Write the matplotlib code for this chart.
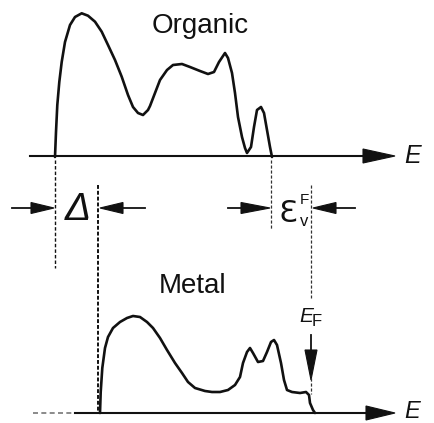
import matplotlib
matplotlib.use("Agg")
import matplotlib.pyplot as plt
from matplotlib.patches import Polygon

# Organic density of states (x, y in image pixels)
org_x = [55, 56, 57.3, 59.3, 61.7, 65, 70, 75, 81.7, 88, 95, 101.7, 108, 115, 121.7, 128,
         133, 138, 143, 148, 150, 155, 160, 167, 173, 182, 190, 200, 208, 214, 219, 225,
         228, 232, 235, 238, 242, 245, 247, 251, 254, 257, 261, 264, 267, 270, 272]
org_y = [157, 132, 105, 82, 62, 42, 25, 17, 13.3, 15.7, 21.7, 31.7, 45, 60, 76.7, 95,
         107, 113, 115, 110, 106, 93, 80, 70, 65, 64, 67, 71, 74, 72, 62, 53,
         58, 73, 93, 117, 137, 148, 153, 147, 127, 110, 107, 113, 130, 147, 157]

# Metal density of states
met_x = [100, 100.7, 102.3, 105, 108, 113, 120, 127, 133, 140, 147, 153, 160, 167, 175,
         182, 188, 195, 205, 212, 220, 228, 235, 240, 243, 247, 250, 253, 258, 263, 267,
         271, 274, 277, 281, 284, 287, 292, 300, 306, 309, 310, 313, 315]
met_y = [413, 392, 368, 348, 337, 328, 322, 318, 316, 317, 322, 328, 338, 350, 363,
         373, 382, 388, 391, 392, 392, 390, 385, 377, 363, 352, 348, 353, 362, 361, 352,
         342, 340, 345, 363, 380, 390, 392, 393, 392, 395, 403, 410, 413]

W, H = 435, 423
fig = plt.figure(figsize=(W / 100, H / 100), dpi=100)
ax = fig.add_axes([0, 0, 1, 1])
ax.set_xlim(0, W)
ax.set_ylim(H, 0)
ax.axis("off")

K = "#111111"
sans = "Liberation Sans"

def head(tip, base, half, ax=ax):
    (tx, ty), (bx, by) = tip, base
    if ty == by:
        pts = [(tx, ty), (bx, by - half), (bx, by + half)]
    else:
        pts = [(tx, ty), (bx - half, by), (bx + half, by)]
    ax.add_patch(Polygon(pts, closed=True, facecolor=K, edgecolor=K, lw=0.8))

# energy axes
ax.plot([30, 370], [156, 156], color=K, lw=1.5)
head((395, 156), (363, 156), 7)
ax.text(404, 156, "E", fontsize=18, fontstyle="italic", family=sans, va="center", ha="left", color=K)

ax.plot([33, 75], [413, 413], color="#777777", lw=1.2, ls=(0, (3, 2)))
ax.plot([75, 370], [413, 413], color=K, lw=1.5)
head((395, 413), (366, 413), 7)
ax.text(404, 411, "E", fontsize=17, fontstyle="italic", family=sans, va="center", ha="left", color=K)

# curves
ax.plot(org_x, org_y, color=K, lw=1.9, solid_joinstyle="round", solid_capstyle="round")
ax.plot(met_x, met_y, color=K, lw=1.9, solid_joinstyle="round", solid_capstyle="round")

# dashed guide lines
dash = (0, (2.5, 1.5))
ax.plot([55, 55], [160, 268], color=K, lw=1.0, ls=dash)
ax.plot([98, 98], [185, 413], color=K, lw=1.4, ls=(0, (2, 1)))
ax.plot([271, 271], [160, 230], color="#333333", lw=0.9, ls=dash)
ax.plot([311, 311], [185, 298], color="#333333", lw=0.9, ls=dash)
ax.plot([311, 311], [378, 394], color="#333333", lw=0.9, ls=dash)

# gap arrows
ay = 208
ax.plot([12, 36], [ay, ay], color=K, lw=1.3)
head((54, ay), (31, ay), 5.5)
ax.plot([120, 145], [ay, ay], color=K, lw=1.3)
head((100, ay), (123, ay), 5.5)
ax.plot([228, 245], [ay, ay], color=K, lw=1.3)
head((270, ay), (241, ay), 5.5)
ax.plot([330, 355], [ay, ay], color=K, lw=1.3)
head((313, ay), (336, ay), 5.5)

ax.text(78, 210, "Δ", fontsize=28, fontstyle="italic", family=sans, va="center", ha="center", color=K)
ax.text(288, 214, "Ɛ", fontsize=22, family="DejaVu Sans", va="center", ha="center", color=K)
ax.text(300, 222, "v", fontsize=12, family=sans, va="center", ha="left", color=K)
ax.text(300, 200, "F", fontsize=11, family=sans, va="center", ha="left", color=K)

# labels
ax.text(200, 26, "Organic", fontsize=20, family=sans, va="center", ha="center", color=K)
ax.text(193, 286, "Metal", fontsize=20, family=sans, va="center", ha="center", color=K)

# Fermi level arrow
ax.text(313, 317, "E", fontsize=15, fontstyle="italic", family=sans, va="center", ha="right", color=K)
ax.text(312, 321, "F", fontsize=12, family=sans, va="center", ha="left", color=K)
ax.plot([311, 311], [335, 355], color=K, lw=1.3)
head((311, 380), (311, 350), 6)

fig.savefig("out.png", dpi=100)
